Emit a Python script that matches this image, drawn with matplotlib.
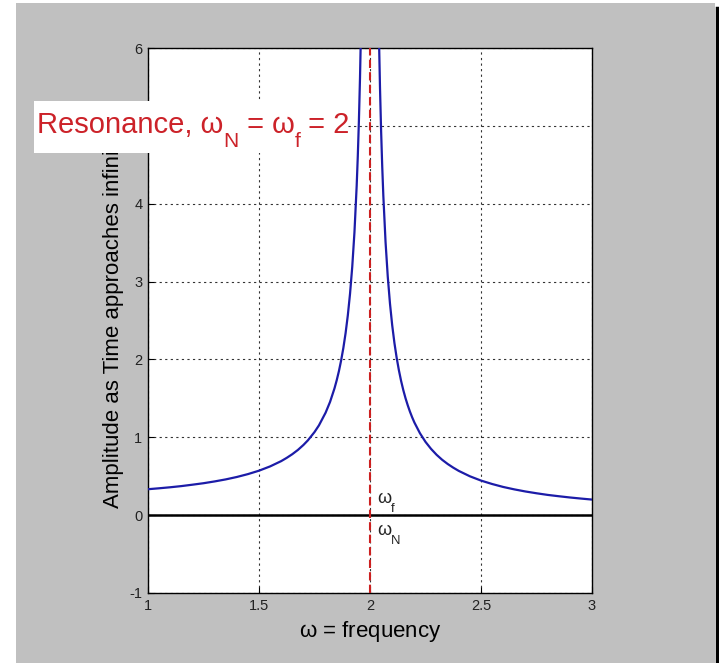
import numpy as np
import matplotlib.pyplot as plt
from matplotlib.patches import Rectangle

plt.rcParams['font.family'] = ['Liberation Sans', 'DejaVu Sans']
plt.rcParams['mathtext.fontset'] = 'custom'
plt.rcParams['mathtext.rm'] = 'Liberation Sans'
plt.rcParams['mathtext.it'] = 'Liberation Sans'
plt.rcParams['axes.unicode_minus'] = False

# amplitude (blue line)
freq = [1.00, 1.05, 1.10, 1.15, 1.20, 1.25, 1.30, 1.35, 1.40, 1.45,
        1.50, 1.55, 1.60, 1.625, 1.65, 1.675, 1.70, 1.72, 1.75, 1.77,
        1.80, 1.82, 1.84, 1.85, 1.86, 1.87, 1.88, 1.89, 1.90, 1.91,
        1.92, 1.93, 1.94, 1.945, 1.95, 1.955, 1.96,
        2.04, 2.045, 2.05, 2.055, 2.06, 2.07, 2.08, 2.09, 2.10, 2.11,
        2.12, 2.13, 2.14, 2.15, 2.16, 2.17, 2.18, 2.19, 2.20, 2.225,
        2.25, 2.275, 2.30, 2.325, 2.35, 2.375, 2.40, 2.45, 2.50, 2.55,
        2.60, 2.65, 2.70, 2.75, 2.80, 2.85, 2.90, 2.95, 3.00]
amplitude = [0.333, 0.345, 0.358, 0.373, 0.391, 0.410, 0.433, 0.459, 0.490, 0.527,
             0.571, 0.626, 0.694, 0.736, 0.783, 0.837, 0.901, 0.960, 1.067, 1.153,
             1.316, 1.454, 1.628, 1.732, 1.850, 1.988, 2.148, 2.337, 2.564, 2.842,
             3.189, 3.635, 4.230, 4.609, 5.063, 5.619, 6.313,
             6.188, 5.494, 4.938, 4.484, 4.105, 3.510, 3.064, 2.717, 2.439, 2.212,
             2.023, 1.863, 1.725, 1.606, 1.502, 1.411, 1.329, 1.256, 1.190, 1.052,
             0.941, 0.851, 0.775, 0.711, 0.657, 0.610, 0.568, 0.499, 0.444, 0.400,
             0.362, 0.331, 0.304, 0.281, 0.260, 0.243, 0.227, 0.213, 0.200]

omega_res = 2
xticks = [1, 1.5, 2, 2.5, 3]
xtick_labels = ['1', '1.5', '2', '2.5', '3']
yticks = [-1, 0, 1, 2, 3, 4, 5, 6]

W, H = 719, 663
fig = plt.figure(figsize=(W / 100, H / 100), dpi=100, facecolor='white')
renderer = fig.canvas.get_renderer()


def rich_text(px, py, parts, size, color, zorder=6):
    # MATLAB-style text with big, low subscripts; px/py in pixels from top-left
    x = px
    for s, sub in parts:
        fs = size * 0.72 if sub else size
        dy = size * 0.48 * 100 / 72 if sub else 0
        t = fig.text(x / W, 1 - (py + dy) / H, s, fontsize=fs, color=color,
                     ha='left', va='baseline', zorder=zorder)
        x = t.get_window_extent(renderer).x1


# gray MATLAB window
fig.patches.append(Rectangle((16 / W, 0), (715 - 16) / W, 660 / H,
                             transform=fig.transFigure, facecolor='#c0c0c0',
                             edgecolor='none', zorder=-2))
fig.lines.append(plt.Line2D([716.5 / W, 716.5 / W], [0, 655 / H],
                            transform=fig.transFigure, color='black', lw=2.5))

ax = fig.add_axes([148 / W, 1 - 593 / H, (592 - 148) / W, (593 - 48) / H])
ax.set_facecolor('white')

ax.plot(freq, amplitude, color='#1c1ca8', lw=1.6, zorder=3)
ax.axhline(0, color='black', lw=1.8, zorder=2)
ax.axvline(omega_res, color='#cc2020', lw=1.5, ls=(0, (4, 2)), zorder=4)

ax.set_xlim(1, 3)
ax.set_ylim(-1, 6)
ax.set_xticks(xticks)
ax.set_xticklabels(xtick_labels)
ax.set_yticks(yticks)
ax.grid(True, color='black', ls=(0, (2, 3)), lw=0.8, alpha=0.8)
ax.tick_params(direction='in', length=4, labelsize=10.5, labelcolor='#222222',
               pad=4, color='black')
for s in ax.spines.values():
    s.set_linewidth(1.0)

ax.set_xlabel(r'$\omega$ = frequency', fontsize=16, labelpad=5)
ax.set_ylabel('Amplitude as Time approaches infinity', fontsize=16, labelpad=4)

# omega_f / omega_N marks next to the resonance line
rich_text(377, 503, [('\u03c9', False), ('f', True)], 13, '#222222')
rich_text(377, 535, [('\u03c9', False), ('N', True)], 13, '#222222')

# resonance call-out box over the plot
fig.patches.append(Rectangle((34 / W, 1 - 153 / H), (347 - 34) / W, (153 - 101) / H,
                             transform=fig.transFigure, facecolor='white',
                             edgecolor='none', zorder=5))
rich_text(37, 133, [('Resonance, \u03c9', False), ('N', True), (' = \u03c9', False),
                    ('f', True), (' = 2', False)], 21, '#cc2229')

fig.savefig('out.png', dpi=100)
